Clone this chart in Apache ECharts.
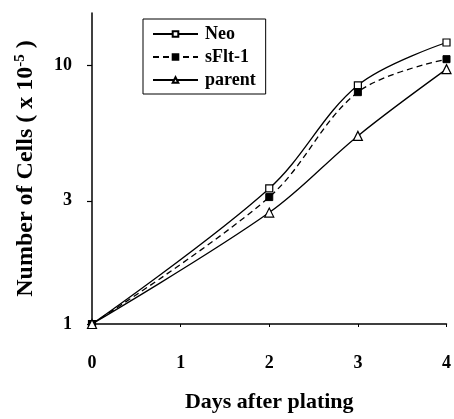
<!DOCTYPE html>
<html><head><meta charset="utf-8">
<script src="https://cdn.jsdelivr.net/npm/echarts@6/dist/echarts.min.js"></script>
<style>html,body{margin:0;padding:0;background:#fff}#c{width:454px;height:419px}</style>
</head><body><div id="c"></div>
<script>
const days = [0, 2, 3, 4];
const neo = [1, 3.35, 8.4, 12.3];
const sflt = [1, 3.1, 7.9, 10.6];
const parent = [1, 2.7, 5.35, 9.7];
const xTicks = [0, 1, 2, 3, 4];
const yTicks = [1, 3, 10];
const seriesNames = ['Neo', 'sFlt-1', 'parent'];

const F = 'Liberation Serif';
function pairs(v){ return days.map((d,i)=>[d, v[i]]); }
const chart = echarts.init(document.getElementById('c'));
chart.setOption({
  animation: false,
  backgroundColor: '#fff',
  grid: {left: 92, right: 5, top: 13, bottom: 95},
  legend: {
    left: 143, top: 19, orient: 'vertical',
    backgroundColor: '#fff', borderColor: '#000', borderWidth: 1,
    padding: [6, 10, 5, 9], itemWidth: 45, itemHeight: 7, itemGap: 5,
    textStyle: {fontFamily: F, fontWeight: 'bold', fontSize: 18, color: '#000', padding: [0,0,0,2]},
    data: seriesNames
  },
  xAxis: {
    type: 'value', min: 0, max: 4, interval: 1,
    name: 'Days after plating', nameLocation: 'middle', nameGap: 67,
    nameTextStyle: {fontFamily: F, fontWeight: 'bold', fontSize: 22, color: '#000'},
    axisLine: {lineStyle: {color: '#000', width: 1.5}},
    axisTick: {show: true, length: 3, inside: false, lineStyle: {color: '#000'}},
    axisLabel: {margin: 30, fontFamily: F, fontWeight: 'bold', fontSize: 18, color: '#000',
      customValues: xTicks},
    splitLine: {show: false}
  },
  yAxis: {
    type: 'log', logBase: 10, min: 1, max: 16,
    name: 'Number of Cells ( x 10{sup|-5} )', nameLocation: 'middle', nameGap: 53, nameRotate: 90,
    nameTextStyle: {fontFamily: F, fontWeight: 'bold', fontSize: 24, color: '#000',
      rich: {sup: {fontFamily: F, fontWeight: 'bold', fontSize: 15, color: '#000', verticalAlign: 'top', padding: [0,0,11,0]}}},
    axisLine: {show: true, lineStyle: {color: '#000', width: 1.5}},
    axisTick: {show: true, length: 5, customValues: yTicks, lineStyle: {color: '#000', width: 1.2}},
    axisLabel: {margin: 20, fontFamily: F, fontWeight: 'bold', fontSize: 18, color: '#000',
      customValues: yTicks},
    minorTick: {show: false},
    splitLine: {show: false}
  },
  series: [
    {name: seriesNames[0], type: 'line', data: pairs(neo), smooth: 0.35,
     symbol: 'rect', symbolSize: 7,
     itemStyle: {color: '#fff', borderColor: '#000', borderWidth: 1.2},
     lineStyle: {color: '#000', width: 1.3}},
    {name: seriesNames[1], type: 'line', data: pairs(sflt), smooth: 0.35,
     symbol: 'rect', symbolSize: 7,
     itemStyle: {color: '#000', borderColor: '#000', borderWidth: 1},
     lineStyle: {color: '#000', width: 1.3, type: [6, 4]}},
    {name: seriesNames[2], type: 'line', data: pairs(parent), smooth: 0.35,
     symbol: 'triangle', symbolSize: 9,
     itemStyle: {color: '#fff', borderColor: '#000', borderWidth: 1.2},
     lineStyle: {color: '#000', width: 1.3}}
  ]
});
</script></body></html>
